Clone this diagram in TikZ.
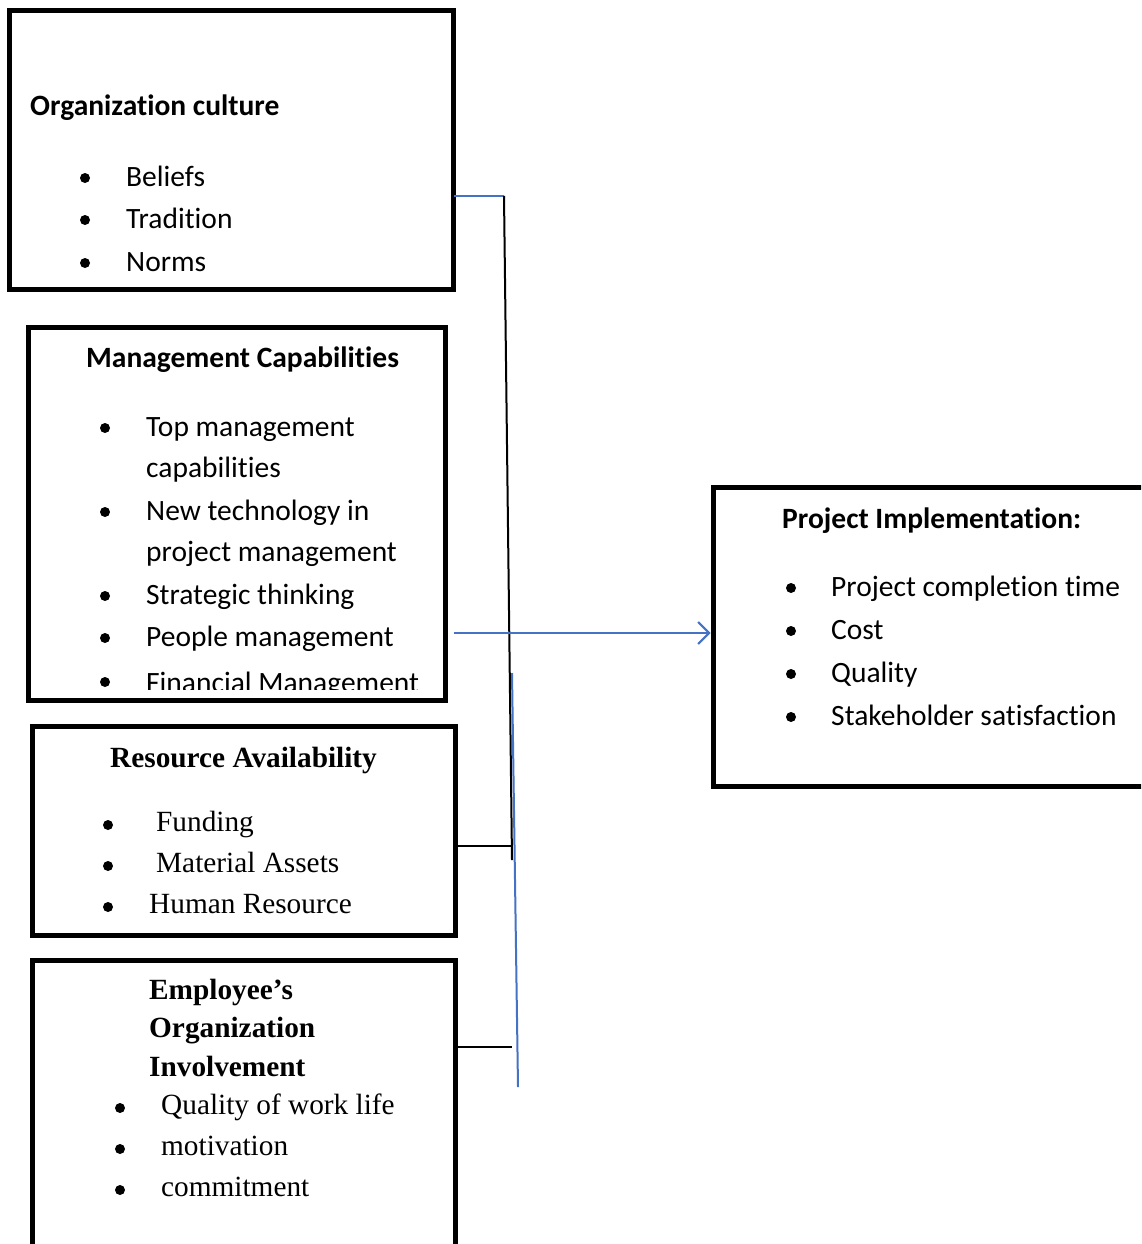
\documentclass[tikz,border=0pt]{standalone}
\usepackage{fontspec}
\setmainfont{Carlito}
\newfontfamily\calfnt[Ligatures=NoCommon]{Carlito}
\newfontfamily\tnrfnt{Liberation Serif}
\usetikzlibrary{arrows.meta}
\definecolor{wordblue}{HTML}{4472C4}
\begin{document}
\begin{tikzpicture}[x=1pt,y=-1pt,
  box/.style={draw=black,line width=5pt,rectangle,inner sep=0pt,outer sep=0pt},
  ctxt/.style={anchor=base west,inner sep=0pt,font=\calfnt\fontsize{29.5}{34}\selectfont},
  chead/.style={ctxt,font=\calfnt\bfseries\fontsize{29.5}{34}\selectfont},
  ttxt/.style={anchor=base west,inner sep=0pt,font=\tnrfnt\fontsize{29.3}{34}\selectfont},
  thead/.style={ttxt,font=\tnrfnt\bfseries\fontsize{29.3}{34}\selectfont},
  bul/.style={circle,fill=black,inner sep=0pt,minimum size=10pt},
  blueline/.style={draw=wordblue,line width=2pt},
  blackline/.style={draw=black,line width=2pt}]
\clip (0,0) rectangle (1141,1244);
\fill[white] (0,0) rectangle (1141,1244);

% boxes
\node[box,minimum width=444pt,minimum height=279pt] (b1) at (231.5,150) {};
\node[box,minimum width=417pt,minimum height=373pt] (b2) at (237,514) {};
\node[box,minimum width=423pt,minimum height=209pt] (b3) at (244,831) {};
\node[box,minimum width=423pt,minimum height=339.5pt] (b4) at (244,1130.25) {};
\node[box,minimum width=486.5pt,minimum height=299pt] (b5) at (956.75,637) {};

% box 1
\node[chead] (t1) at (30,116) {Organization culture};
\node[bul] (d11) at (85,178) {}; \node[ctxt] (t11) at (126,186) {Beliefs};
\node[bul] (d12) at (85,220) {}; \node[ctxt] (t12) at (126,228) {Tradition};
\node[bul] (d13) at (85,263) {}; \node[ctxt] (t13) at (126,271) {Norms};

% box 2
\node[chead] (t2) at (86,367) {Management Capabilities};
\begin{scope}
\clip (31,330) rectangle (443,689);
\node[bul] (d21) at (105,428) {}; \node[ctxt] (t21a) at (146,436) {Top management};
\node[ctxt] (t21b) at (146,477) {capabilities};
\node[bul] (d22) at (105,512) {}; \node[ctxt] (t22a) at (146,520) {New technology in};
\node[ctxt] (t22b) at (146,561) {project management};
\node[bul] (d23) at (105,596) {}; \node[ctxt] (t23) at (146,604) {Strategic thinking};
\node[bul] (d24) at (105,638) {}; \node[ctxt] (t24) at (146,646) {People management};
\node[bul] (d25) at (105,682) {}; \node[ctxt] (t25) at (146,692) {Financial Management};
\end{scope}

% box 3
\node[thead] (t3) at (110,767) {Resource Availability};
\node[bul] (d31) at (108,825) {}; \node[ttxt] (t31) at (156,831) {Funding};
\node[bul] (d32) at (108,866) {}; \node[ttxt] (t32) at (156,872) {Material Assets};
\node[bul] (d33) at (108,907) {}; \node[ttxt] (t33) at (149,913) {Human Resource};

% box 4
\node[thead] (t4a) at (149,999) {Employee’s};
\node[thead] (t4b) at (149,1037) {Organization};
\node[thead] (t4c) at (149,1076) {Involvement};
\node[bul] (d41) at (120,1108) {}; \node[ttxt] (t41) at (161,1114) {Quality of work life};
\node[bul] (d42) at (120,1149) {}; \node[ttxt] (t42) at (161,1155) {motivation};
\node[bul] (d43) at (120,1190) {}; \node[ttxt] (t43) at (161,1196) {commitment};

% box 5
\node[chead] (t5) at (782,528) {Project Implementation:};
\node[bul] (d51) at (791,588) {}; \node[ctxt] (t51) at (831,596) {Project completion time};
\node[bul] (d52) at (791,631) {}; \node[ctxt] (t52) at (831,639) {Cost};
\node[bul] (d53) at (791,674) {}; \node[ctxt] (t53) at (831,682) {Quality};
\node[bul] (d54) at (791,717) {}; \node[ctxt] (t54) at (831,725) {Stakeholder satisfaction};

% connectors
\coordinate (j1) at (504,196);
\coordinate (j2) at (512,860);
\coordinate (a0) at (454,633);
\coordinate (v1) at (512,673);
\coordinate (v2) at (518,1087);
\coordinate (h3) at (512,846);
\coordinate (h4) at (512,1047);
\draw[blueline] (b1.east |- j1) -- (j1);
\draw[blackline] (j1) -- (j2);
\draw[blueline,shorten >=3pt,-{Straight Barb[length=11pt,width=22pt,line width=2pt]}] (a0) -- (b5.west |- a0);
\draw[blueline] (v1) -- (v2);
\draw[blackline] (b3.east |- h3) -- (h3);
\draw[blackline] (b4.east |- h4) -- (h4);
\end{tikzpicture}
\end{document}
